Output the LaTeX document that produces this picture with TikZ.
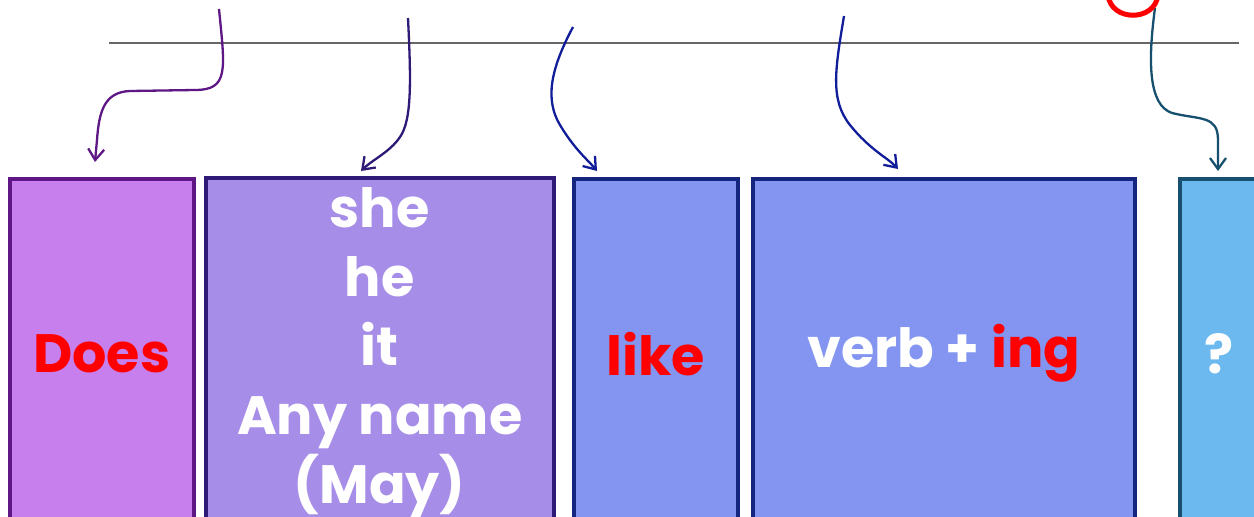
\documentclass[tikz,border=0pt]{standalone}
\usepackage{fontspec}
\setmainfont{Poppins}
\usetikzlibrary{arrows.meta}
\definecolor{doesfill}{HTML}{C77FEE}
\definecolor{doesline}{HTML}{5E1784}
\definecolor{subjfill}{HTML}{A68DE8}
\definecolor{subjline}{HTML}{2F1A78}
\definecolor{verbfill}{HTML}{8395F0}
\definecolor{verbline}{HTML}{15247F}
\definecolor{qfill}{HTML}{6CB9EF}
\definecolor{qline}{HTML}{17506E}
\definecolor{textred}{HTML}{FF0000}
\begin{document}
\begin{tikzpicture}[x=1pt,y=-1pt]
  \tikzset{
  box/.style={draw,line width=3.5pt,anchor=north west,minimum height=350pt,inner sep=0pt,
    align=center,font=\fontsize{54}{69}\selectfont\bfseries,text=white},
  arr/.style={line width=2.3pt,-{Straight Barb[length=11pt,width=16pt]}},
  }
  \clip (0,0) rectangle (1254,517);
  % the line
  \coordinate (ruleL) at (109,43);
  \coordinate (ruleR) at (1239,43);
  \draw[black!60,line width=1.3pt] (ruleL) -- (ruleR);

  % the boxes
  \node[box,fill=doesfill,draw=doesline,minimum width=184pt] (does) at (8,177) {\color{textred}Does};
  \node[box,fill=subjfill,draw=subjline,minimum width=348pt] (subj) at (204,176) {she\\he\\it\\Any name\\(May)};
  \node[box,fill=verbfill,draw=verbline,minimum width=164pt] (like) at (572,177) {\color{textred}like};
  \node[box,fill=verbfill,draw=verbline,minimum width=382pt] (verb) at (751,177) {verb + {\color{textred}ing}};
  \node[box,fill=qfill,draw=qline,minimum width=120pt] (quest) at (1178,177) {\hspace*{-42pt}?};

  % the arrows
  \coordinate (s1) at (219,9);    \coordinate (e1) at (95,162);
  \coordinate (s2) at (408,18);   \coordinate (e2) at (361,171);
  \coordinate (s3) at (573,27);   \coordinate (e3) at (597,171);
  \coordinate (s4) at (844,16);   \coordinate (e4) at (898,169);
  \coordinate (s5) at (1155,8);   \coordinate (e5) at (1218,171);
  \draw[arr,color=doesline] (s1) .. controls (225,70) and (229,90) .. (195,90) -- (130,91)
    .. controls (104,92) and (99,112) .. (97,140) -- (e1);
  \draw[arr,color=subjline] (s2) .. controls (411,80) and (412,120) .. (400,137)
    .. controls (390,152) and (372,160) .. (e2);
  \draw[arr,color=verbline!80!blue] (s3) .. controls (550,70) and (545,100) .. (560,125)
    .. controls (575,150) and (588,160) .. (e3);
  \draw[arr,color=verbline!80!blue] (s4) .. controls (835,70) and (830,100) .. (850,125)
    .. controls (870,150) and (888,158) .. (e4);
  \draw[arr,color=qline] (s5) .. controls (1148,60) and (1148,105) .. (1172,113)
    .. controls (1200,120) and (1218,115) .. (1218,140) -- (e5);

  % the red curve
  \coordinate (g1) at (1108,-5);
  \coordinate (g2) at (1158,-5);
  \draw[textred,line width=5pt] (g1) .. controls (1111,22) and (1155,22) .. (g2);
\end{tikzpicture}
\end{document}
